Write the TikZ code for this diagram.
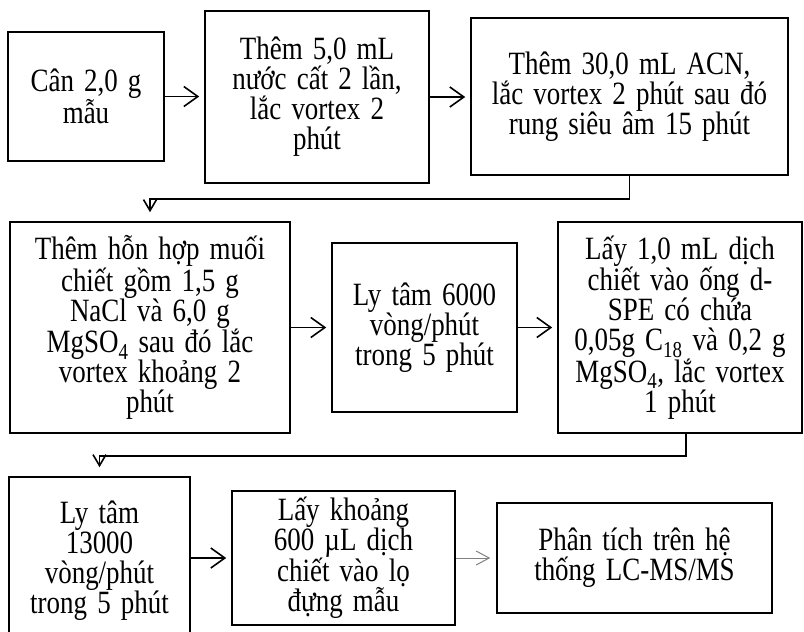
\documentclass[tikz,border=0pt]{standalone}
\usepackage{fontspec}
\setmainfont{Liberation Serif}[FakeStretch=0.83, WordSpace=1.5]
\usepackage{tikz}
\usetikzlibrary{positioning,arrows.meta}

\begin{document}
\begin{tikzpicture}[
  x=1pt, y=-1pt,
  box/.style={draw, line width=1.6pt, align=center, inner sep=2pt, font=\fontsize{32.5}{30}\selectfont},
  arrow/.style={-{Straight Barb[length=14pt,width=20pt]}, line width=1.6pt, shorten >=5pt},
  elbow/.style={-{Straight Barb[length=11pt,width=13pt]}, line width=1.6pt, shorten >=9pt},
  thinarrow/.style={-{Straight Barb[length=13pt,width=14pt]}, line width=1pt, gray, shorten >=6pt},
]
\useasboundingbox (0,0) rectangle (804,632);

% Row 1
\node[box, minimum width=156pt, minimum height=129pt] (can) at (86,96.5) {Cân 2,0 g\\mẫu};
\node[box, minimum width=224pt, minimum height=172pt] (nuoc) at (317,97) {Thêm 5,0 mL\\nước cất 2 lần,\\lắc vortex 2\\phút};
\node[box, minimum width=317pt, minimum height=157pt] (acn) at (629.5,96.5) {Thêm 30,0 mL ACN,\\lắc vortex 2 phút sau đó\\rung siêu âm 15 phút};

% Row 2
\node[box, minimum width=280pt, minimum height=211pt] (muoi) at (150,327.5) {Thêm hỗn hợp muối\\chiết gồm 1,5 g\\NaCl và 6,0 g\\MgSO\textsubscript{4} sau đó lắc\\vortex khoảng 2\\phút};
\node[box, minimum width=185pt, minimum height=169pt] (lytam1) at (424.5,327.5) {Ly tâm 6000\\vòng/phút\\trong 5 phút};
\node[box, minimum width=244pt, minimum height=211pt] (dspe) at (680,327.5) {Lấy 1,0 mL dịch\\chiết vào ống d-\\SPE có chứa\\0,05g C\textsubscript{18} và 0,2 g\\MgSO\textsubscript{4}, lắc vortex\\1 phút};

% Row 3
\node[box, minimum width=181pt, minimum height=168pt] (lytam2) at (99.5,561) {Ly tâm\\13000\\vòng/phút\\trong 5 phút};
\node[box, minimum width=223pt, minimum height=134pt] (lo) at (343.5,558) {Lấy khoảng\\600 µL dịch\\chiết vào lọ\\đựng mẫu};
\node[box, minimum width=275pt, minimum height=110pt] (lcms) at (634.5,558) {Phân tích trên hệ\\thống LC-MS/MS};

% Arrows
\draw[arrow] (can) -- (can -| nuoc.west);
\draw[arrow] (nuoc) -- (nuoc -| acn.west);
\draw[elbow] (acn.south) -- ++(0,23) -| (muoi.north);
\draw[arrow] (muoi) -- (lytam1);
\draw[arrow] (lytam1) -- (dspe);
\draw[elbow] ([xshift=6pt]dspe.south) -- ++(0,22) -| (lytam2.north);
\draw[arrow] (lytam2.east |- lo.west) -- (lo.west);
\draw[thinarrow] (lo) -- (lcms);

\end{tikzpicture}
\end{document}
